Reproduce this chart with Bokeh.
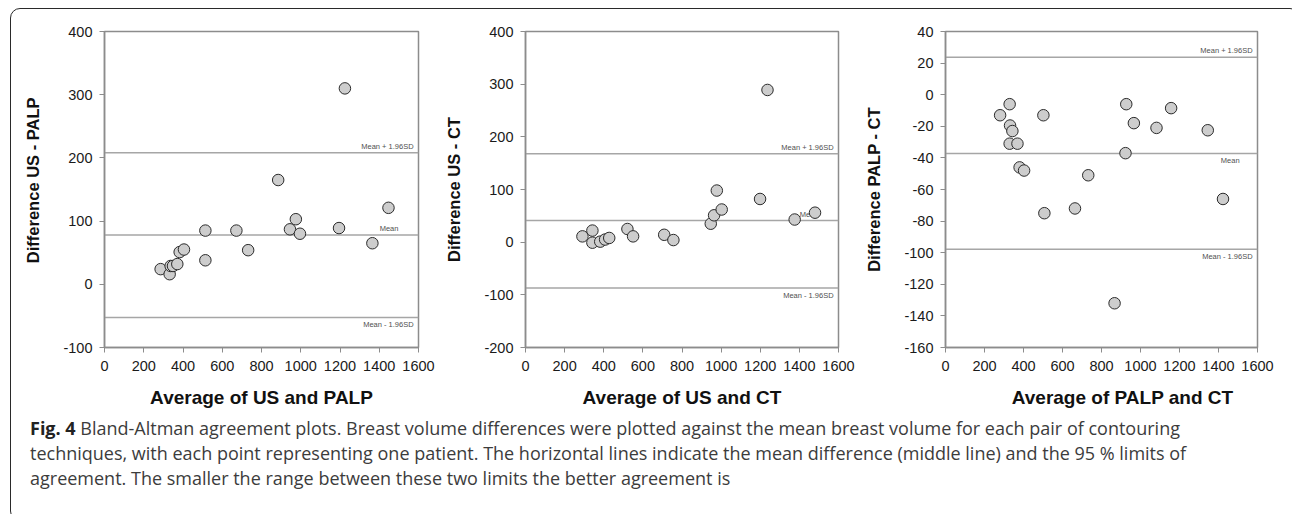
from bokeh.plotting import figure
from bokeh.models import Range1d, Span, Label, SingleIntervalTicker, Div, CustomJSTickFormatter
from bokeh.layouts import row, column
from bokeh.embed import file_html
from bokeh.resources import INLINE

# ---- data ----
us_palp_avg = [286, 332, 337, 349, 371, 383, 405, 514, 514, 672, 732, 885, 945, 975, 996, 1195, 1225, 1365, 1447]
us_palp_diff = [24, 16, 29, 29, 32, 51, 55, 85, 38, 85, 54, 165, 87, 103, 80, 89, 310, 65, 121]
us_palp_stats = {"mean": 78, "upper": 208, "lower": -52.5}

us_ct_avg = [291, 342, 342, 382, 407, 428, 521, 550, 709, 756, 947, 964, 978, 1003, 1199, 1237, 1376, 1480]
us_ct_diff = [11, 22, -1, 1, 5, 8, 25, 11, 14, 4, 35, 51, 98, 62, 82, 289, 43, 56]
us_ct_stats = {"mean": 41, "upper": 168, "lower": -87}

palp_ct_avg = [280, 329, 331, 343, 329, 369, 380, 403, 502, 732, 927, 923, 966, 1082, 1157, 1345, 1423, 507, 664, 867]
palp_ct_diff = [-13, -6, -19.5, -23, -31, -31, -46, -48, -13, -51, -6, -37, -18, -21, -8.5, -22.5, -66, -75, -72, -132]
palp_ct_stats = {"mean": -37.2, "upper": 23.7, "lower": -97.8}

x_range = (0, 1600)
x_tick = 200
NB = "\u00a0"
panels = [
    dict(x=us_palp_avg, y=us_palp_diff, stats=us_palp_stats, yr=(-100, 400), ytick=100,
         xlabel="Average of US and PALP", ylabel=NB * 4 + "Difference US - PALP", mean_pos="above"),
    dict(x=us_ct_avg, y=us_ct_diff, stats=us_ct_stats, yr=(-200, 400), ytick=100,
         xlabel="Average of US and CT", ylabel="Difference US - CT", mean_pos="above"),
    dict(x=palp_ct_avg, y=palp_ct_diff, stats=palp_ct_stats, yr=(-160, 40), ytick=20,
         xlabel=NB * 8 + "Average of PALP and CT", ylabel="Difference PALP - CT", mean_pos="below"),
]
caption_bold = "Fig. 4"
caption_lines = [
    "Bland-Altman agreement plots. Breast volume differences were plotted against the mean breast volume for each pair of contouring",
    "techniques, with each point representing one patient. The horizontal lines indicate the mean difference (middle line) and the 95 % limits of",
    "agreement. The smaller the range between these two limits the better agreement is",
]

# ---- geometry ----
geo = [dict(width=429, left=93, right=22), dict(width=420, left=85, right=22), dict(width=429, left=85, right=32)]
FONT = "Liberation Sans"
LINE_COL = "#a6a6a6"
FRAME_COL = "#8c8c8c"


def make_panel(d, g):
    p = figure(width=g["width"], height=401, x_range=Range1d(*x_range), y_range=Range1d(*d["yr"]),
               output_backend="svg", toolbar_location=None,
               min_border_left=g["left"], min_border_right=g["right"],
               min_border_top=22, min_border_bottom=63)
    p.grid.visible = False
    p.outline_line_color = FRAME_COL
    p.outline_line_width = 1.5
    p.background_fill_color = "white"
    p.border_fill_color = None
    p.xaxis.ticker = SingleIntervalTicker(interval=x_tick)
    p.yaxis.ticker = SingleIntervalTicker(interval=d["ytick"])
    for ax in (p.xaxis[0], p.yaxis[0]):
        ax.formatter = CustomJSTickFormatter(code="return String(tick);")
        ax.axis_line_color = FRAME_COL
        ax.axis_line_width = 1.5
        ax.major_tick_line_color = FRAME_COL
        ax.major_tick_line_width = 1
        ax.major_tick_out = 5
        ax.major_tick_in = 0
        ax.minor_tick_line_color = None
        ax.major_label_text_font = FONT
        ax.major_label_text_font_size = "14.5px"
        ax.major_label_text_color = "#1a1a1a"
        ax.axis_label_text_font = FONT
        ax.axis_label_text_font_style = "bold"
        ax.axis_label_text_color = "#111111"
    p.xaxis.axis_label = d["xlabel"]
    p.xaxis.axis_label_text_font_size = "19px"
    p.xaxis.major_label_standoff = 8
    p.xaxis.axis_label_standoff = 13
    p.yaxis.axis_label = d["ylabel"]
    p.yaxis.axis_label_text_font_size = "16.5px"
    p.yaxis.major_label_standoff = 7
    p.yaxis.axis_label_standoff = 18

    s = d["stats"]
    for key in ("upper", "mean", "lower"):
        p.add_layout(Span(location=s[key], dimension="width", line_color=LINE_COL,
                          line_width=1.5, level="underlay"))
    lab = dict(text_font=FONT, text_font_size="7.5px", text_color="#505050", level="underlay")
    p.add_layout(Label(x=1575, y=s["upper"], text="Mean + 1.96SD", text_align="right",
                       text_baseline="bottom", y_offset=2, **lab))
    p.add_layout(Label(x=1575, y=s["lower"], text="Mean - 1.96SD", text_align="right",
                       text_baseline="top", y_offset=-3, **lab))
    if d["mean_pos"] == "above":
        p.add_layout(Label(x=1450, y=s["mean"], text="Mean", text_align="center",
                           text_baseline="bottom", y_offset=2, **lab))
    else:
        p.add_layout(Label(x=1460, y=s["mean"], text="Mean", text_align="center",
                           text_baseline="top", y_offset=-3, **lab))

    p.scatter(d["x"], d["y"], size=11.5, fill_color="#cdcdcd", line_color="#2b2b2b", line_width=1)
    return p


plots = [make_panel(d, g) for d, g in zip(panels, geo)]

cap_html = ('<div style="font-family:\'Open Sans\';font-size:18px;line-height:25px;color:#3c3c3c;'
            'padding:1px 0 0 14px;white-space:nowrap;">'
            f'<b style="color:#222">{caption_bold}</b> ' + "<br>".join(caption_lines) + '</div>')
cap = Div(text=cap_html, width=1278, height=100)

layout = column(row(*plots, spacing=0), cap, spacing=0,
                styles={"border": "1.5px solid #2a2a2a", "border-radius": "10px",
                        "margin-left": "10px", "margin-top": "8px", "background": "white"})

open("out.html", "w").write(file_html(layout, INLINE))
